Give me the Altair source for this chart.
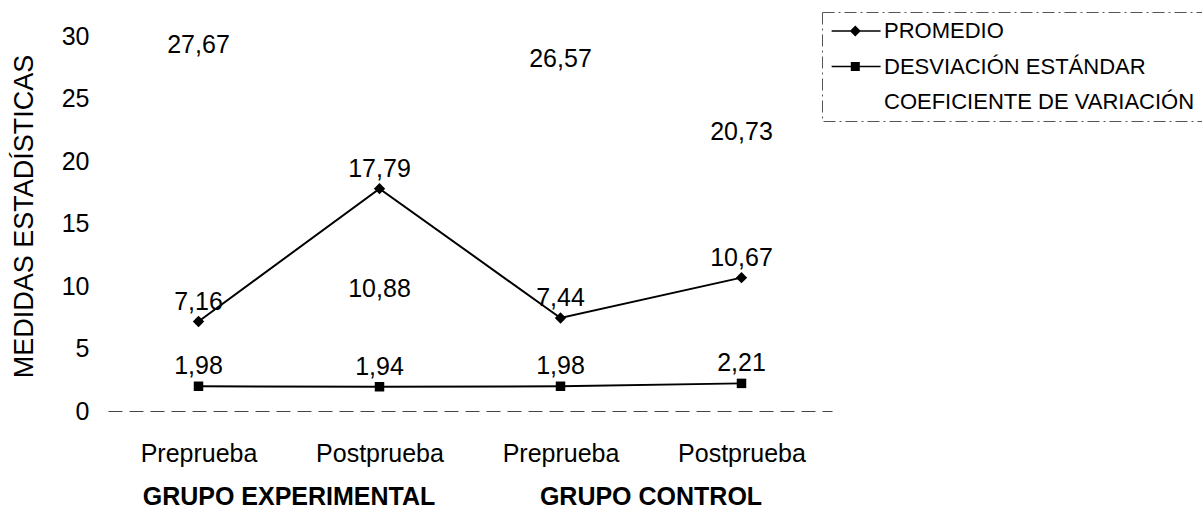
import json

import altair as alt
import pandas as pd

# Categories along the x axis and the two study groups
CATEGORIES = ["Preprueba", "Postprueba", "Preprueba", "Postprueba"]
GROUPS = ["GRUPO EXPERIMENTAL", "GRUPO CONTROL"]

# Series names and their values per category
SERIES = ["PROMEDIO", "DESVIACIÓN ESTÁNDAR", "COEFICIENTE DE VARIACIÓN"]
PROMEDIO = [7.16, 17.79, 7.44, 10.67]
DESVIACION = [1.98, 1.94, 1.98, 2.21]
COEFICIENTE = [27.67, 10.88, 26.57, 20.73]

Y_TICKS = [0, 5, 10, 15, 20, 25, 30]

FONT = "Liberation Sans"

rows = []
for name, vals in zip(SERIES, [PROMEDIO, DESVIACION, COEFICIENTE]):
    for i, v in enumerate(vals):
        rows.append({"serie": name, "pos": i, "valor": v})
df = pd.DataFrame(rows)
# the coefficient label of the experimental post-test sits under its point
df["abajo"] = (df["serie"] == SERIES[2]) & (df["pos"] == 1)

# each group label is centred between its two categories
groups_df = pd.DataFrame(
    {"grupo": GROUPS, "pos": [(2 * g + 2 * g + 1) / 2 for g in range(len(GROUPS))]}
)

x_enc = alt.X(
    "pos:Q",
    scale=alt.Scale(domain=[-0.5, len(CATEGORIES) - 0.5], nice=False, zero=False),
    axis=alt.Axis(
        values=list(range(len(CATEGORIES))),
        labelExpr=f"{json.dumps(CATEGORIES)}[datum.value]",
        title=None,
        ticks=False,
        grid=False,
        domainColor="#444444",
        domainDash=[14, 7],
        domainWidth=1,
        labelFont=FONT,
        labelFontSize=25,
        labelColor="black",
        labelPadding=30,
    ),
)
y_enc = alt.Y(
    "valor:Q",
    scale=alt.Scale(domain=[0, 30], nice=False),
    axis=alt.Axis(
        values=Y_TICKS,
        title="MEDIDAS ESTADÍSTICAS",
        domain=False,
        ticks=False,
        grid=False,
        labelFont=FONT,
        labelFontSize=25,
        labelColor="black",
        labelPadding=19,
        titleFont=FONT,
        titleFontSize=27,
        titleFontWeight="normal",
        titleColor="black",
        titleAngle=270,
        titleAlign="center",
        titleBaseline="middle",
        titleX=-84,
        titleY=180,
    ),
)

base = alt.Chart(df)

lines = (
    base.transform_filter(alt.datum.serie != SERIES[2])
    .mark_line(color="black", strokeWidth=2)
    .encode(x=x_enc, y=y_enc, detail="serie:N")
)
diamonds = (
    base.transform_filter(alt.datum.serie == SERIES[0])
    .mark_point(shape="diamond", filled=True, color="black", size=130, opacity=1)
    .encode(x=x_enc, y=y_enc)
)
squares = (
    base.transform_filter(alt.datum.serie == SERIES[1])
    .mark_point(shape="square", filled=True, color="black", size=90, opacity=1)
    .encode(x=x_enc, y=y_enc)
)

# legend symbols: a short bar (the line) with the series marker in its middle
LEGEND_PATHS = [
    "M-0.85,-0.07H3.6V0.07H-0.85ZM1.3,-0.5L1.8,0L1.3,0.5L0.8,0Z",
    "M-0.85,-0.07H3.6V0.07H-0.85ZM0.89,-0.41H1.71V0.41H0.89Z",
    "M0,0",
]
legend_layer = base.mark_point(
    fill="black", stroke="black", strokeWidth=1.6, opacity=0
).encode(
    x=x_enc,
    y=y_enc,
    shape=alt.Shape(
        "serie:N",
        scale=alt.Scale(domain=SERIES, range=LEGEND_PATHS),
        legend=alt.Legend(
            title=None,
            orient="none",
            legendX=714,
            legendY=-24,
            labelFont=FONT,
            labelFontSize=22,
            labelColor="black",
            labelLimit=600,
            labelOffset=32,
            symbolSize=484,
            symbolStrokeWidth=0,
            symbolFillColor="black",
            symbolStrokeColor="black",
            symbolOpacity=1,
            padding=8,
            rowPadding=13.5,
            strokeColor="#555555",
        ),
    ),
)

labels = base.transform_calculate(
    txt="replace(format(datum.valor, '.2f'), '.', ',')"
)
labels_above = (
    labels.transform_filter("!datum.abajo")
    .mark_text(dy=-20, font=FONT, fontSize=25, color="black")
    .encode(x=x_enc, y=y_enc, text="txt:N")
)
labels_below = (
    labels.transform_filter("datum.abajo")
    .mark_text(dy=14, font=FONT, fontSize=25, color="black")
    .encode(x=x_enc, y=y_enc, text="txt:N")
)

group_labels = (
    alt.Chart(groups_df)
    .mark_text(font=FONT, fontSize=25, fontWeight="bold", color="black", baseline="alphabetic")
    .encode(x=x_enc, y=alt.value(469), text="grupo:N")
)

chart = (
    alt.layer(
        lines, diamonds, squares, legend_layer, labels_above, labels_below, group_labels
    )
    .properties(
        width=724,
        height=375,
        autosize=alt.AutoSizeParams(type="none"),
        padding={"left": 108, "top": 36, "right": 370, "bottom": 99},
        background="white",
    )
    .configure_view(stroke=None)
    .configure_legend(strokeDash=[12, 4, 2, 4])
)

chart.save("out.html", embed_options={"renderer": "svg", "actions": False})
